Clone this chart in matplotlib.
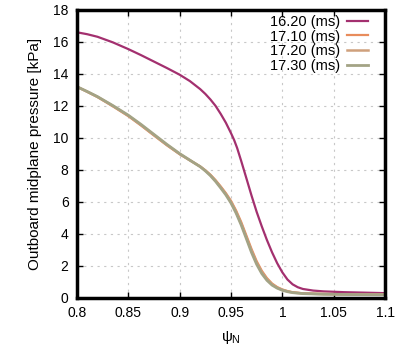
import matplotlib
matplotlib.use("Agg")
import matplotlib.pyplot as plt

plt.rcParams['font.family'] = ['Liberation Sans', 'DejaVu Sans']
plt.rcParams['font.size'] = 10
plt.rcParams['mathtext.fontset'] = 'custom'
plt.rcParams['mathtext.rm'] = 'Liberation Sans'
plt.rcParams['mathtext.it'] = 'Liberation Sans'

labels = ["16.20 (ms)", "17.10 (ms)", "17.20 (ms)", "17.30 (ms)"]
colors = ["#a3306f", "#e88c5c", "#cfa07c", "#a3a385"]
widths = [1.6, 1.6, 1.8, 2.0]

psi_a = [0.80, 0.81, 0.82, 0.835, 0.85, 0.8625, 0.875, 0.8875, 0.90, 0.91, 0.92,
         0.925, 0.93, 0.935, 0.94, 0.945, 0.95, 0.953, 0.956, 0.96, 0.965, 0.97,
         0.975, 0.98, 0.985, 0.99, 0.995, 1.0, 1.005, 1.01, 1.015, 1.02, 1.03,
         1.04, 1.06, 1.08, 1.1]
p_1620 = [16.6, 16.48, 16.32, 15.97, 15.55, 15.17, 14.77, 14.37, 13.95, 13.55, 13.05,
          12.75, 12.4, 12.0, 11.5, 10.95, 10.3, 9.88, 9.37, 8.55, 7.48, 6.4,
          5.38, 4.47, 3.62, 2.85, 2.17, 1.6, 1.15, 0.85, 0.67, 0.56, 0.46,
          0.41, 0.36, 0.33, 0.3]

psi_b = [0.80, 0.81, 0.82, 0.835, 0.85, 0.8625, 0.875, 0.8875, 0.90, 0.91, 0.92,
         0.925, 0.93, 0.935, 0.94, 0.945, 0.95, 0.955, 0.96, 0.965, 0.97, 0.975,
         0.98, 0.985, 0.99, 0.995, 1.0, 1.005, 1.01, 1.02, 1.04, 1.07, 1.1]
p_1710 = [13.2, 12.88, 12.55, 11.97, 11.36, 10.77, 10.15, 9.54, 8.98, 8.6, 8.22,
          7.98, 7.7, 7.36, 6.97, 6.55, 6.07, 5.46, 4.74, 3.9, 3.06, 2.3,
          1.7, 1.24, 0.9, 0.68, 0.53, 0.43, 0.36, 0.29, 0.25, 0.23, 0.22]
p_1720 = [13.2, 12.89, 12.57, 12.0, 11.39, 10.8, 10.18, 9.57, 9.0, 8.6, 8.21,
          7.96, 7.67, 7.32, 6.92, 6.5, 6.0, 5.37, 4.64, 3.79, 2.95, 2.2,
          1.61, 1.17, 0.85, 0.64, 0.5, 0.41, 0.34, 0.28, 0.24, 0.22, 0.21]
p_1730 = [13.2, 12.9, 12.58, 12.02, 11.42, 10.84, 10.22, 9.6, 9.02, 8.61, 8.2,
          7.94, 7.64, 7.28, 6.87, 6.44, 5.93, 5.3, 4.55, 3.7, 2.84, 2.1,
          1.52, 1.1, 0.8, 0.61, 0.48, 0.39, 0.33, 0.27, 0.23, 0.21, 0.2]

series = [(psi_a, p_1620), (psi_b, p_1710), (psi_b, p_1720), (psi_b, p_1730)]

fig = plt.figure(figsize=(4.07, 3.53), dpi=100)
ax = fig.add_axes([0.189, 0.156, 0.757, 0.816])

for (x, y), lab, c, w in zip(series, labels, colors, widths):
    ax.plot(x, y, color=c, lw=w, label=lab, solid_joinstyle="round")

ax.set_xlim(0.8, 1.1)
ax.set_ylim(0, 18)
ax.set_xticks([0.8, 0.85, 0.9, 0.95, 1.0, 1.05, 1.1])
ax.set_xticklabels(["0.8", "0.85", "0.9", "0.95", "1", "1.05", "1.1"])
ax.set_yticks(range(0, 19, 2))
ax.grid(True, color="#c8c8c8", linestyle=(0, (2, 4)), linewidth=0.8)
ax.tick_params(direction="in", length=4, width=1, top=True, right=True, pad=6,
               labelsize=10)
for s in ax.spines.values():
    s.set_linewidth(2.5)

ax.set_xlabel(r"$\psi_\mathrm{N}$", labelpad=6, fontsize=11)
ax.set_ylabel("Outboard midplane pressure [kPa]", labelpad=8, fontsize=11)

ax.legend(loc="upper right", bbox_to_anchor=(0.964, 1.003), borderaxespad=0,
          frameon=False, markerfirst=False, handlelength=1.45, fontsize=10.5,
          labelspacing=0.05, handletextpad=0.5)

fig.savefig("out.png", dpi=100)
